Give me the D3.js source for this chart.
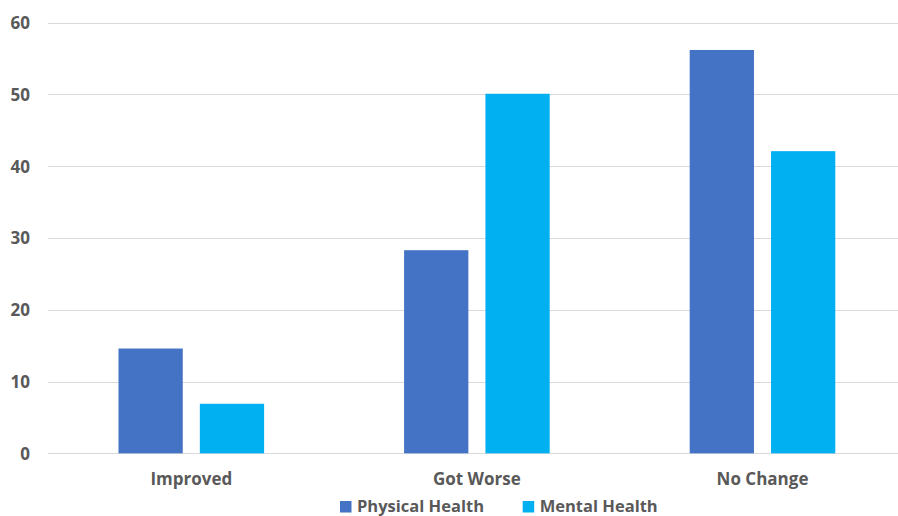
<!DOCTYPE html>
<html><head><meta charset="utf-8">
<script src="https://cdn.jsdelivr.net/npm/d3@7"></script>
<style>body{margin:0;background:#fff}svg{display:block}text{font-family:"Open Sans",sans-serif;font-weight:600;fill:#595959}</style>
</head><body><svg id="c" width="898" height="516"></svg>
<script>
const categories = ["Improved", "Got Worse", "No Change"];
const seriesNames = ["Physical Health", "Mental Health"];
const physical = [14.6, 28.3, 56.2];
const mental = [6.9, 50.1, 42.1];
const yTicks = [0, 10, 20, 30, 40, 50, 60];
const colors = ["#4472C4", "#00B0F0"];

const svg = d3.select("#c");
const y = d3.scaleLinear().domain([0, 60]).range([453.3, 22.7]);
const x0 = d3.scaleBand().domain(categories).range([48.5, 905.3]).paddingInner(0).paddingOuter(0);
const x1 = d3.scaleBand().domain(seriesNames).range([70, x0.bandwidth() - 70]).paddingInner(0.21).paddingOuter(0);

// gridlines
svg.append("g").selectAll("line").data(yTicks).join("line")
  .attr("x1", 48).attr("x2", 898)
  .attr("y1", d => Math.round(y(d)) + 0.5).attr("y2", d => Math.round(y(d)) + 0.5)
  .attr("stroke", "#d9d9d9").attr("stroke-width", 1);

// y axis labels
const yAxis = d3.axisLeft(y).tickValues(yTicks).tickSize(0).tickPadding(0);
const ya = svg.append("g").attr("transform", "translate(30,0)").call(yAxis);
ya.select(".domain").remove();
ya.selectAll("text").attr("font-size", 17).style("font-family", "Open Sans").style("font-weight", 700).attr("fill", "#595959").attr("dy", "0.35em");

const data = categories.map((c, i) => ({cat: c, vals: [physical[i], mental[i]]}));
const g = svg.append("g").selectAll("g").data(data).join("g")
  .attr("transform", d => `translate(${x0(d.cat)},0)`);
g.selectAll("rect").data(d => d.vals.map((v, j) => ({s: seriesNames[j], v, j}))).join("rect")
  .attr("x", d => x1(d.s)).attr("width", x1.bandwidth())
  .attr("y", d => y(d.v)).attr("height", d => y(0) - y(d.v))
  .attr("fill", d => colors[d.j]);

// x axis labels
const xAxis = d3.axisBottom(x0).tickSize(0).tickPadding(0);
const xa = svg.append("g").attr("transform", "translate(0,485)").call(xAxis);
xa.select(".domain").remove();
xa.selectAll("text").attr("font-size", 17).style("font-family", "Open Sans").style("font-weight", 700).attr("fill", "#595959").attr("dy", 0);

// legend
const legX = [340, 522.7];
const leg = svg.append("g").selectAll("g").data(seriesNames).join("g")
  .attr("transform", (d, i) => `translate(${legX[i]},0)`);
leg.append("rect").attr("x", 0).attr("y", 501).attr("width", 11.5).attr("height", 11.5).attr("fill", (d, i) => colors[i]);
leg.append("text").attr("x", 17).attr("y", 512).attr("font-size", 16.5).style("font-weight", 700).text(d => d);
</script></body></html>
